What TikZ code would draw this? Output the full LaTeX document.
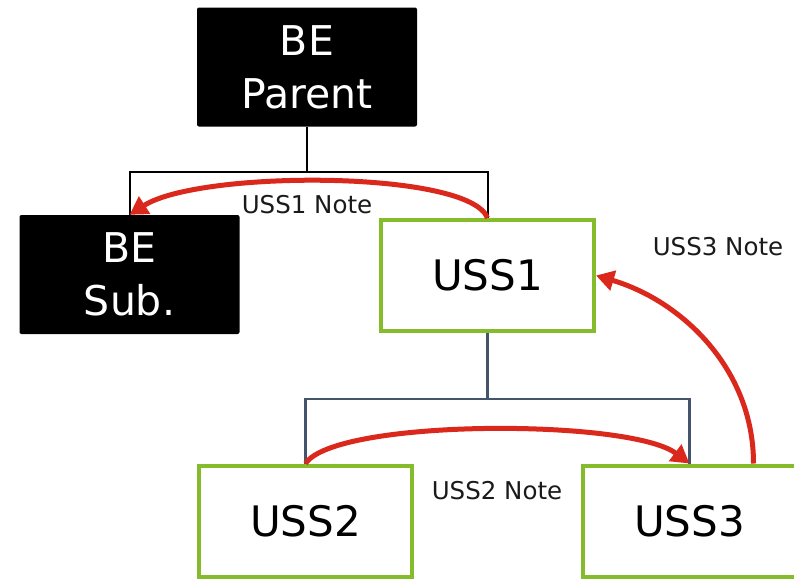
\documentclass[tikz,border=0pt]{standalone}
\usepackage{fontspec}
\setmainfont{DejaVu Sans}
\usetikzlibrary{arrows.meta,calc}

\definecolor{beblack}{HTML}{000000}
\definecolor{ussgreen}{HTML}{84BC2C}
\definecolor{slate}{HTML}{44546A}
\definecolor{notered}{HTML}{DA291C}
\definecolor{notetext}{HTML}{1A1A1A}

\tikzset{
  bebox/.style={fill=beblack, rounded corners=2pt, text=white, align=center,
    minimum width=220pt, minimum height=119pt, inner sep=0pt,
    font=\fontsize{41}{53}\selectfont},
  ussbox/.style={draw=ussgreen, line width=4pt, fill=white, text=black,
    minimum width=213pt, minimum height=111pt, inner sep=0pt,
    font=\fontsize{42}{50}\selectfont},
  betree/.style={draw=black, line width=2pt},
  usstree/.style={draw=slate, line width=2.5pt},
  notearrow/.style={draw=notered, line width=5pt,
    -{Triangle[length=18pt,width=20pt]}},
  notelabel/.style={text=notetext, inner sep=0pt,
    font=\fontsize{24.5}{29}\selectfont},
}

\begin{document}
\begin{tikzpicture}[x=1pt,y=-1pt]
  \useasboundingbox (0,0) rectangle (794,581);

  % boxes
  \node[bebox] (parent) at (307,67) {BE\\Parent};
  \node[bebox] (sub) at (129.5,274.5) {BE\\Sub.};
  \node[ussbox] (uss1) at (487.5,275.5) {USS1};
  \node[ussbox] (uss2) at (305.5,521) {USS2};
  \node[ussbox] (uss3) at (689.5,521) {USS3};

  % hierarchy lines
  \coordinate (j1) at ($(parent.south)+(0,45)$);
  \coordinate (j2) at ($(uss1.south)+(0,66)$);
  \draw[betree] (parent.south) -- (j1);
  \draw[betree] (sub.north) |- (j1) -| (uss1.north);
  \draw[usstree] (uss1.south) -- (j2);
  \draw[usstree] (uss2.north) |- (j2) -| (uss3.north);

  % redraw box borders over the line ends
  \node[ussbox] at (uss1) {USS1};
  \node[ussbox] at (uss2) {USS2};
  \node[ussbox] at (uss3) {USS3};

  % notes
  \coordinate (s3) at ($(uss3.north)+(64,0)$);
  \draw[notearrow] (uss1.north) .. controls ($(uss1.north)+(-18,-48)$) and ($(sub.north)+(70,-45)$) .. (sub.north);
  \draw[notearrow] (uss2.north) .. controls ($(uss2.north)+(30,-45)$) and ($(uss3.north)+(-60,-45)$) .. (uss3.north);
  \draw[notearrow] (s3) .. controls ($(s3)+(0,-95)$) and ($(uss1.east)+(85,25)$) .. (uss1.east);

  \node[notelabel] (n1) at (307,205) {USS1 Note};
  \node[notelabel] (n2) at (497,491) {USS2 Note};
  \node[notelabel] (n3) at (718,247) {USS3 Note};
\end{tikzpicture}
\end{document}
